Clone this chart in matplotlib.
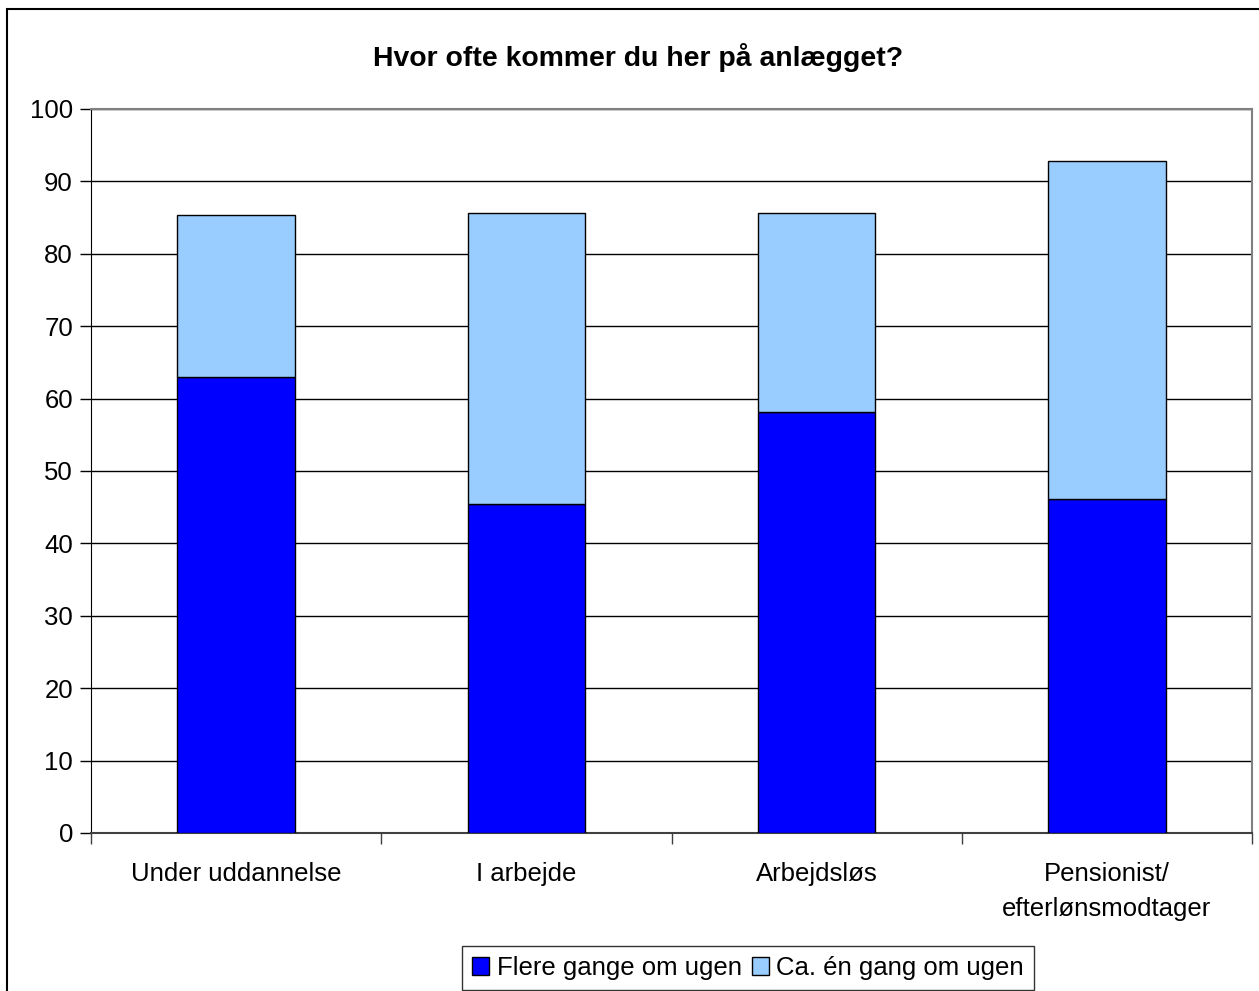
import matplotlib
matplotlib.use("Agg")
import matplotlib.pyplot as plt
from matplotlib.patches import Rectangle
import numpy as np

categories = ["Under uddannelse", "I arbejde", "Arbejdsløs", "Pensionist/\nefterlønsmodtager"]
flere_gange = [63.0, 45.5, 58.1, 46.2]
ca_en_gang = [22.3, 40.2, 27.5, 46.6]
series_names = ["Flere gange om ugen", "Ca. én gang om ugen"]
title = "Hvor ofte kommer du her på anlægget?"

plt.rcParams['font.family'] = ['Liberation Sans', 'DejaVu Sans']

W, H = 1259, 991
fig = plt.figure(figsize=(W/100, H/100), dpi=100)
fig.patch.set_facecolor("white")
# outer chart border
fig.patches.append(Rectangle((7/W, -0.1), 1.2, (H-9)/H + 0.1, transform=fig.transFigure,
                             fill=False, edgecolor="black", linewidth=1.5))

ax = fig.add_axes([91/W, 1-833/H, 1161/W, 724/H])
x = np.arange(len(categories))
ax.bar(x, flere_gange, width=0.405, color="#0000FF", edgecolor="black", linewidth=1, zorder=3,
       label=series_names[0])
ax.bar(x, ca_en_gang, width=0.405, bottom=flere_gange, color="#99CCFF", edgecolor="black",
       linewidth=1, zorder=3, label=series_names[1])

ax.set_xlim(-0.5, len(categories) - 0.5)
ax.set_ylim(0, 100)
ax.set_yticks(np.arange(0, 101, 10))
ax.yaxis.grid(True, color="black", linewidth=1, zorder=0)
ax.set_axisbelow(True)

ax.set_xticks(x)
ax.set_xticklabels(categories, fontsize=18.5, linespacing=1.55)
ax.set_xticks(np.arange(-0.5, len(categories), 1.0), minor=True)
ax.tick_params(axis='x', which='major', length=0, pad=21)
ax.tick_params(axis='x', which='minor', length=8, width=1, direction='out', color='#404040')
ax.tick_params(axis='y', length=8, width=1, direction='out', labelsize=18.5, pad=5)

for s in ["top", "right"]:
    ax.spines[s].set_color("#808080")
    ax.spines[s].set_linewidth(1.5)
ax.spines["left"].set_color("black")
ax.spines["bottom"].set_color("#404040")
ax.spines["bottom"].set_linewidth(1.5)

fig.text(638/W, 1-57/H, title, ha="center", va="center", fontsize=20.4, fontweight="bold")

leg = fig.legend(loc="center", bbox_to_anchor=(748/W, 1-968/H), ncol=2, fontsize=18.5,
                 frameon=True, fancybox=False, shadow=False, handlelength=0.65, handleheight=0.65,
                 handletextpad=0.3, columnspacing=0.4, borderpad=0.4, borderaxespad=0)
leg.get_frame().set_edgecolor("black")
leg.get_frame().set_linewidth(1)

fig.savefig("out.png", dpi=100)
